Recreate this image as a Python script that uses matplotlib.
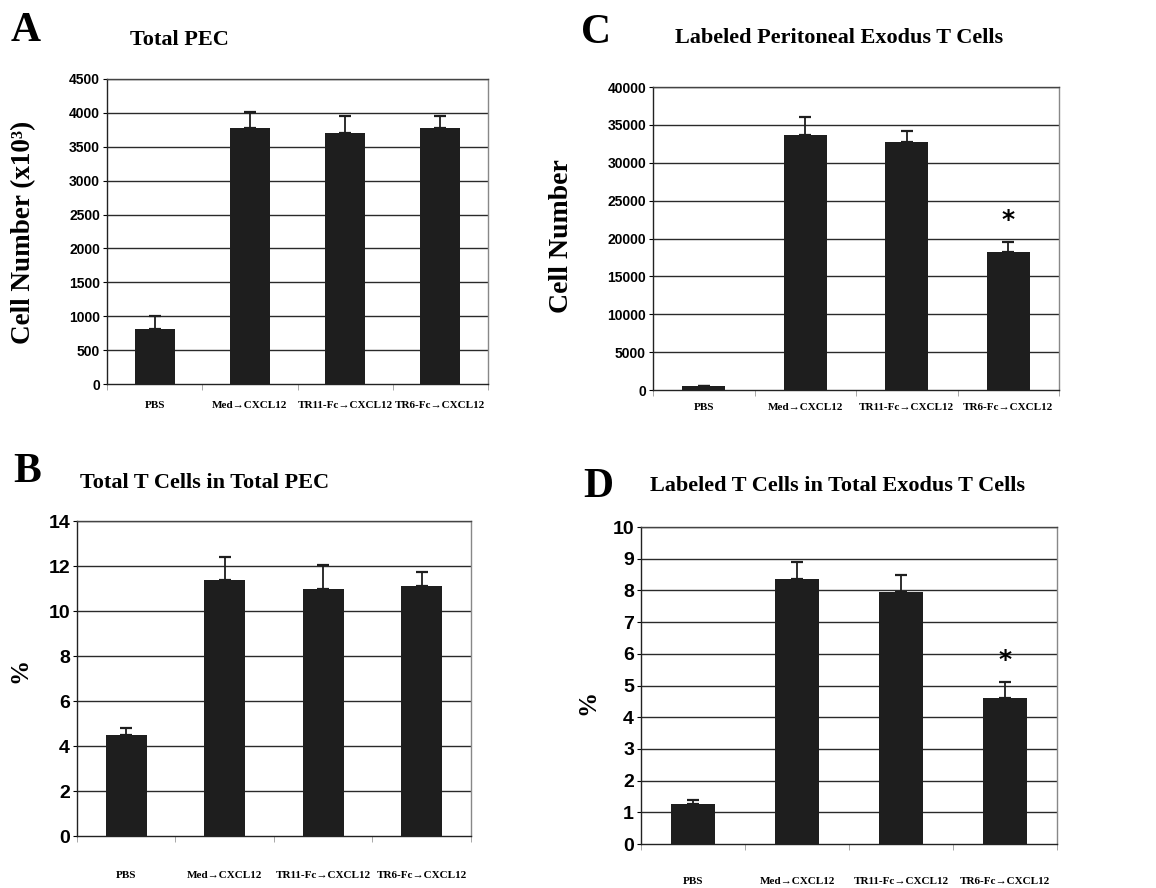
import numpy as np
import matplotlib
matplotlib.use('Agg')
from matplotlib import pyplot as plt

W, H = 1156, 888

groups = ['PBS', 'Med\u2192CXCL12', 'TR11-Fc\u2192CXCL12', 'TR6-Fc\u2192CXCL12']

# A: total PEC (x10^3)
pec_mean = [810, 3780, 3710, 3770]
pec_err = [190, 240, 250, 180]
# B: total T cells in total PEC (%)
tpec_mean = [4.5, 11.4, 11.0, 11.1]
tpec_err = [0.3, 1.0, 1.05, 0.65]
# C: labeled peritoneal exodus T cells
lab_mean = [500, 33700, 32800, 18200]
lab_err = [0, 2300, 1400, 1400]
# D: labeled T cells in total exodus T cells (%)
exo_mean = [1.25, 8.35, 7.95, 4.6]
exo_err = [0.15, 0.55, 0.55, 0.5]

serif = ['Liberation Serif', 'DejaVu Serif']
sans = ['Liberation Sans', 'DejaVu Sans']

fig = plt.figure(figsize=(W / 100, H / 100), dpi=100)


def make_axes(l, r, t, b):
    return fig.add_axes([l / W, 1 - b / H, (r - l) / W, (b - t) / H])


def panel(box, mean, err, ymax, step, tick_fs, label_pad, title, title_xy,
          letter, letter_xy, ylabel, ylabel_xy, ylabel_fs, star=None):
    ax = make_axes(*box)
    x = np.arange(len(mean))
    ax.bar(x, mean, width=0.42, color='#1e1e1e', zorder=3)
    ax.errorbar(x, mean, yerr=[np.zeros(len(err)), err], fmt='none',
                ecolor='#1e1e1e', elinewidth=1.3, capsize=4, capthick=1.6, zorder=2)
    ax.set_xlim(-0.5, len(mean) - 0.5)
    ax.set_ylim(0, ymax)
    ticks = np.arange(0, ymax + step / 2, step)
    ax.set_yticks(ticks)
    ax.set_yticklabels([f'{t:g}' for t in ticks], family=sans,
                       fontweight='bold', fontsize=tick_fs)
    for t in ticks[1:]:
        ax.axhline(t, color='#2a2a2a', lw=1.0, zorder=1)
    ax.set_xticks(x)
    ax.set_xticklabels(groups, family=serif, fontweight='bold', fontsize=8)
    ax.tick_params(axis='x', which='major', length=0, pad=label_pad)
    ax.set_xticks(np.arange(-0.5, len(mean), 1), minor=True)
    ax.tick_params(axis='x', which='minor', length=4, color='#999999', direction='out')
    ax.tick_params(axis='y', length=3, direction='out', pad=2)
    ax.spines['left'].set_color('#222222')
    ax.spines['bottom'].set_color('#222222')
    ax.spines['top'].set_color('#444444')
    ax.spines['right'].set_color('#888888')
    for s in ax.spines.values():
        s.set_linewidth(1.0)
    if star is not None:
        ax.text(3, star, '*', ha='center', va='center', fontsize=18,
                fontweight='bold', family=['DejaVu Sans'])
    fig.text(title_xy[0] / W, 1 - title_xy[1] / H, title, ha='center', va='center',
             family=serif, fontweight='bold', fontsize=16)
    fig.text(letter_xy[0] / W, 1 - letter_xy[1] / H, letter, ha='center', va='center',
             family=serif, fontweight='bold', fontsize=30)
    fig.text(ylabel_xy[0] / W, 1 - ylabel_xy[1] / H, ylabel, ha='center', va='center',
             rotation=90, family=serif, fontweight='bold', fontsize=ylabel_fs)
    return ax


panel((107, 488, 79, 384), pec_mean, pec_err, 4500, 500, 10, 12,
      'Total PEC', (179, 40), 'A', (26, 31),
      'Cell Number (x10\u00b3)', (24, 232), 19.5)
panel((653, 1059, 87, 390), lab_mean, lab_err, 40000, 5000, 10, 9,
      'Labeled Peritoneal Exodus T Cells', (839, 38), 'C', (596, 33),
      'Cell Number', (561, 236), 20, star=22400)
panel((77, 471, 521, 836), tpec_mean, tpec_err, 14, 2, 14, 25,
      'Total T Cells in Total PEC', (205, 483), 'B', (27, 472), '%', (20, 670), 18)
panel((641, 1057, 527, 844), exo_mean, exo_err, 10, 1, 14, 24,
      'Labeled T Cells in Total Exodus T Cells', (838, 486), 'D', (598, 487),
      '%', (588, 702), 18, star=5.8)

fig.savefig('out.png', dpi=100)
